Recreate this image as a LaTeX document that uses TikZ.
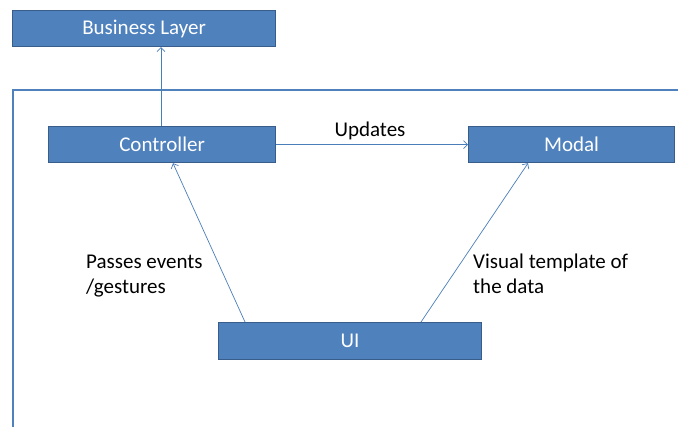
\documentclass[tikz,border=0pt]{standalone}
\usepackage{fontspec}
\setmainfont{Carlito}
\usetikzlibrary{arrows.meta}
\definecolor{boxfill}{HTML}{4F81BD}
\definecolor{boxline}{HTML}{385D8A}
\definecolor{conn}{HTML}{4A7EBB}
\definecolor{frameline}{HTML}{4F81BD}
\tikzset{
  blk/.style={draw=boxline, line width=1.2pt, fill=boxfill, text=white, font=\fontsize{21}{25}\selectfont, inner sep=0pt, anchor=north west},
  conn/.style={draw=conn, line width=0.7pt, -{Straight Barb[length=4pt,width=8pt]}},
  lbl/.style={text=black, font=\fontsize{21}{25}\selectfont, inner sep=0pt, align=left, anchor=north west}
}
\begin{document}
\begin{tikzpicture}[x=1pt,y=-1pt]
\useasboundingbox (0,0) rectangle (678,427);
\fill[white] (0,0) rectangle (678,427);
% frame
\coordinate (fbl) at (13,427);
\coordinate (ftl) at (13,90);
\coordinate (ftr) at (678,90);
\draw[frameline, line width=2pt] (fbl) -- (ftl) -- (ftr);
% boxes
\node[blk, minimum width=263pt, minimum height=36pt] (biz) at (12,10) {Business Layer};
\node[blk, minimum width=227pt, minimum height=36pt] (ctrl) at (48,126) {Controller};
\node[blk, minimum width=206pt, minimum height=36pt] (modal) at (468,126) {Modal};
\node[blk, minimum width=263pt, minimum height=37pt] (ui) at (218,322) {UI};
% connectors
\draw[conn] (ctrl.north -| 161,0) -- (biz.south -| 161,0);
\draw[conn] (ctrl.east) -- (modal.west);
\node[text=black, font=\fontsize{21}{25}\selectfont, inner sep=0pt, anchor=base] (upd) at (370,137) {Updates};
\draw[conn] (ui.north -| 245,0) -- (ctrl.south -| 173,0);
\draw[conn] (ui.north -| 421,0) -- (modal.south -| 528,0);
% labels
\node[lbl] (pe) at (86,254.5) {Passes events\\/gestures};
\node[lbl] (vt) at (473,254) {Visual template of\\the data};
\end{tikzpicture}
\end{document}
